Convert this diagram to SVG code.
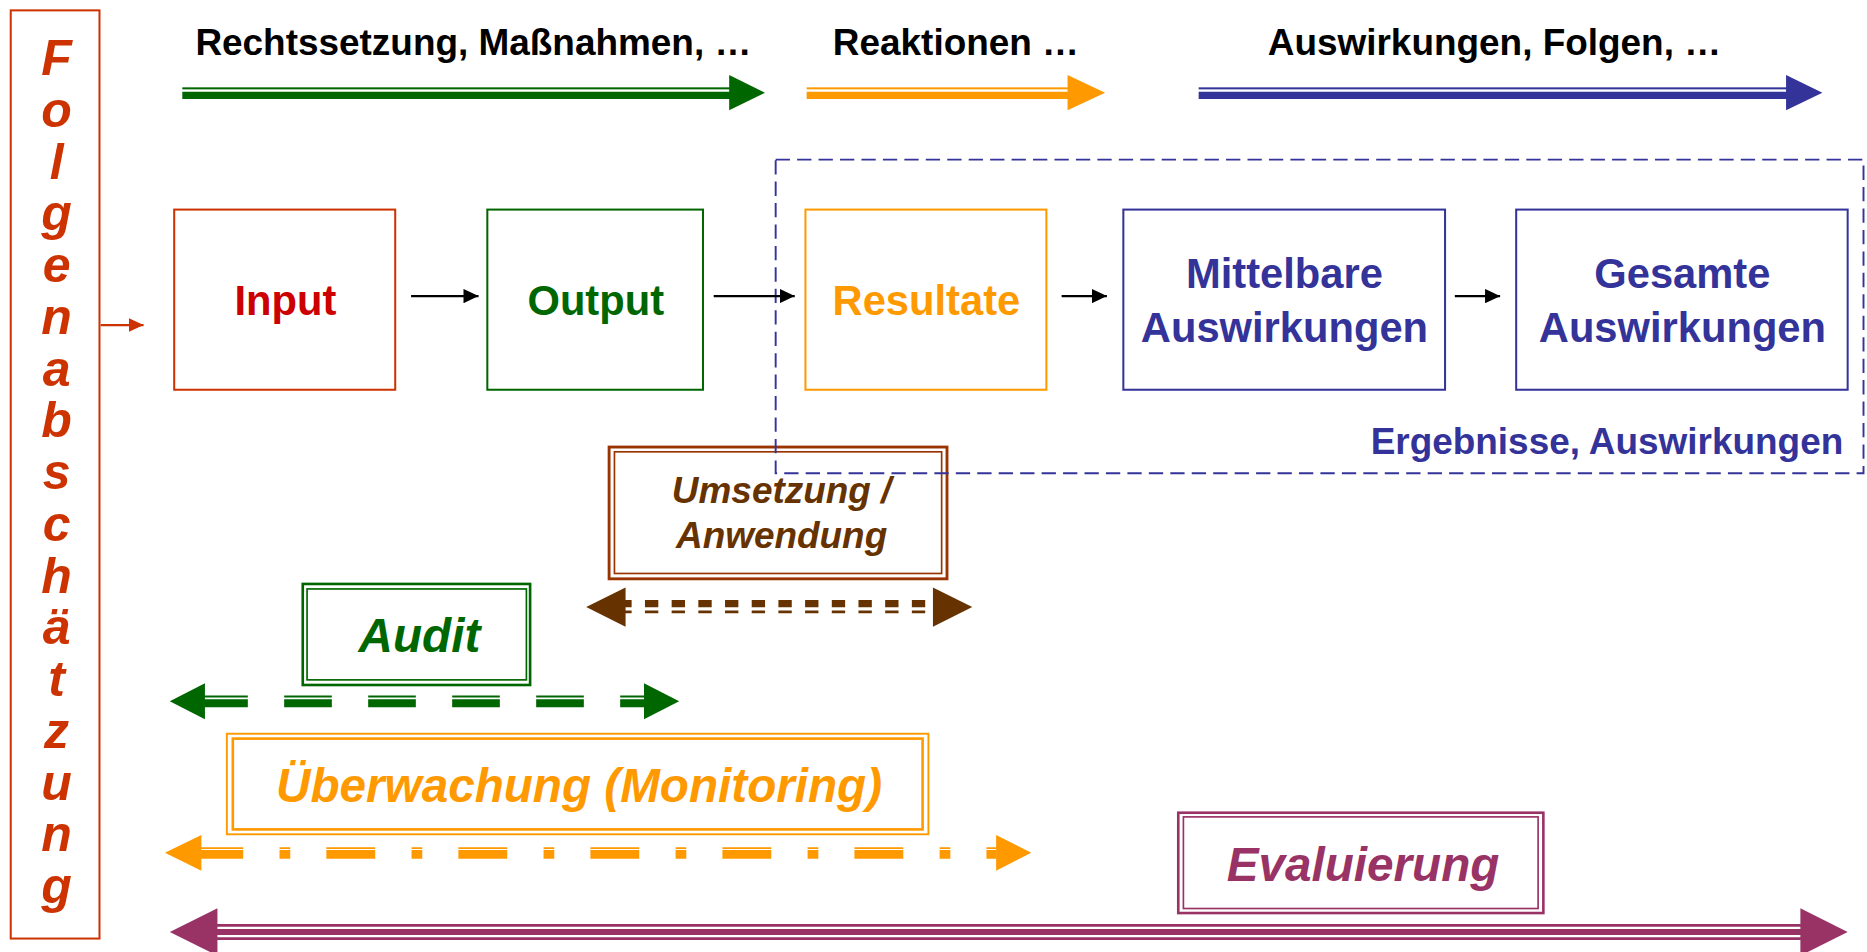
<svg xmlns="http://www.w3.org/2000/svg" width="1867" height="952" viewBox="0 0 1867 952">
<style>
text{font-family:"Liberation Sans",Arial,Helvetica,sans-serif;font-weight:bold}
.it{font-style:italic}
.box{fill:none;stroke-width:1.7}
.conn{stroke:#000;stroke-width:1.8;fill:none}
.mid{text-anchor:middle}
</style>
<defs>
<marker id="ah" markerUnits="userSpaceOnUse" markerWidth="12.6" markerHeight="12" refX="12.6" refY="6" orient="auto" viewBox="0 0 12.6 12"><path d="M0,0 L12.6,6 L0,12 z" fill="#000"/></marker>
<marker id="ahr" markerUnits="userSpaceOnUse" markerWidth="12.6" markerHeight="11.7" refX="12.6" refY="5.85" orient="auto" viewBox="0 0 12.6 11.7"><path d="M0,0 L12.6,5.85 L0,11.7 z" fill="#CC3300"/></marker>
</defs>
<rect width="1867" height="952" fill="#fff"/>
<g transform="scale(1.1915)">

<g id="phase-labels" font-size="31" fill="#000">
<text x="164" y="46">Rechtssetzung, Maßnahmen, …</text>
<text x="699" y="46">Reaktionen …</text>
<text x="1064" y="46">Auswirkungen, Folgen, …</text>
</g>

<g id="folgenabschaetzung">
<rect x="9" y="8.7" width="74.5" height="779" fill="none" stroke="#CC3300" stroke-width="1.7"/>
<text class="it mid" font-size="42" fill="#CC3300">
<tspan x="47.5" y="63">F</tspan><tspan x="47.5" y="106.4">o</tspan><tspan x="47.5" y="149.9">l</tspan><tspan x="47.5" y="193.3">g</tspan><tspan x="47.5" y="236.8">e</tspan><tspan x="47.5" y="280.2">n</tspan><tspan x="47.5" y="323.6">a</tspan><tspan x="47.5" y="367.1">b</tspan><tspan x="47.5" y="410.5">s</tspan><tspan x="47.5" y="454">c</tspan><tspan x="47.5" y="497.4">h</tspan><tspan x="47.5" y="540.8">ä</tspan><tspan x="47.5" y="584.3">t</tspan><tspan x="47.5" y="627.7">z</tspan><tspan x="47.5" y="671.2">u</tspan><tspan x="47.5" y="714.6">n</tspan><tspan x="47.5" y="758">g</tspan>
</text>
</g>

<g id="node-input">
<rect class="box" x="146.2" y="175.9" width="185.5" height="151.2" stroke="#CC3300"/>
<text class="mid" x="239.5" y="264" font-size="35" fill="#CC0000">Input</text>
</g>
<g id="node-output">
<rect class="box" x="409" y="175.9" width="181" height="151.2" stroke="#006600"/>
<text class="mid" x="500" y="264" font-size="35" fill="#006600">Output</text>
</g>
<g id="node-resultate">
<rect class="box" x="676" y="175.9" width="202.2" height="151.2" stroke="#FF9900"/>
<text class="mid" x="777.5" y="264" font-size="35" fill="#FF9900">Resultate</text>
</g>
<g id="node-mittelbare">
<rect class="box" x="942.8" y="175.9" width="270" height="151.2" stroke="#333399"/>
<text class="mid" font-size="35" fill="#333399"><tspan x="1078" y="242">Mittelbare</tspan><tspan x="1078" y="287">Auswirkungen</tspan></text>
</g>
<g id="node-gesamte">
<rect class="box" x="1272.5" y="175.9" width="278.2" height="151.2" stroke="#333399"/>
<text class="mid" font-size="35" fill="#333399"><tspan x="1412" y="242">Gesamte</tspan><tspan x="1412" y="287">Auswirkungen</tspan></text>
</g>

<g id="node-umsetzung">
<rect x="511.2" y="375.2" width="283.6" height="110.6" fill="none" stroke="#993300" stroke-width="2.4"/>
<rect x="515.7" y="379.2" width="274.6" height="102.1" fill="none" stroke="#993300" stroke-width="1.4"/>
<text class="it mid" font-size="31" fill="#663300"><tspan x="656" y="422">Umsetzung /</tspan><tspan x="656" y="460">Anwendung</tspan></text>
</g>

<g id="group-ergebnisse">
<rect x="651" y="134" width="913" height="263.2" fill="none" stroke="#333399" stroke-width="1.6" stroke-dasharray="12 6"/>
<text x="1547" y="381" font-size="31" fill="#333399" text-anchor="end">Ergebnisse, Auswirkungen</text>
</g>

<g id="node-audit">
<rect x="254.1" y="490.1" width="190.8" height="84.8" fill="none" stroke="#006600" stroke-width="2.2"/>
<rect x="257.7" y="494.3" width="184.1" height="76.3" fill="none" stroke="#006600" stroke-width="1.4"/>
<text class="it mid" x="352" y="547" font-size="40" fill="#006600">Audit</text>
</g>

<g id="node-ueberwachung">
<rect x="190.4" y="615.8" width="588.8" height="84.4" fill="none" stroke="#FF9900" stroke-width="1.6"/>
<rect x="195.4" y="619.9" width="578.9" height="76.2" fill="none" stroke="#FF9900" stroke-width="2.2"/>
<text class="it mid" x="486" y="672.8" font-size="40" fill="#FF9900">Überwachung (Monitoring)</text>
</g>

<g id="node-evaluierung">
<rect x="988.9" y="682.1" width="306.4" height="84.2" fill="none" stroke="#993366" stroke-width="2.2"/>
<rect x="993.2" y="685.6" width="297.7" height="76.9" fill="none" stroke="#993366" stroke-width="1.4"/>
<text class="it mid" x="1144" y="739" font-size="40" fill="#993366">Evaluierung</text>
</g>

<g id="connectors">
<line class="conn" x1="345" y1="248.5" x2="401.6" y2="248.5" marker-end="url(#ah)"/>
<line class="conn" x1="599" y1="248.5" x2="667" y2="248.5" marker-end="url(#ah)"/>
<line class="conn" x1="891" y1="248.5" x2="929" y2="248.5" marker-end="url(#ah)"/>
<line class="conn" x1="1221" y1="248.5" x2="1259" y2="248.5" marker-end="url(#ah)"/>
<line x1="84.5" y1="272.8" x2="120.5" y2="272.8" stroke="#CC3300" stroke-width="1.9" marker-end="url(#ahr)"/>

<g id="arrow-rechtssetzung" fill="#006600">
<rect x="153" y="73.3" width="462" height="1.7"/>
<rect x="153" y="77" width="462" height="6.1"/>
<polygon points="612,63 642,77.8 612,92.5"/>
</g>
<g id="arrow-reaktionen" fill="#FF9900">
<rect x="677" y="73.3" width="222" height="1.7"/>
<rect x="677" y="77" width="222" height="6.1"/>
<polygon points="896,63 927.5,77.8 896,92.5"/>
</g>
<g id="arrow-auswirkungen" fill="#333399">
<rect x="1006" y="73.3" width="496" height="1.7"/>
<rect x="1006" y="77" width="496" height="6.1"/>
<polygon points="1499,63 1529.5,77.8 1499,92.5"/>
</g>

<g id="arrow-umsetzung" fill="#663300" stroke="#663300">
<line x1="518.9" y1="506.6" x2="783" y2="506.6" stroke-width="6.1" stroke-dasharray="11.2 11.2"/>
<line x1="518.9" y1="513.6" x2="783" y2="513.6" stroke-width="2.3" stroke-dasharray="11.2 11.2"/>
<polygon stroke="none" points="525,493 492,509.5 525,526"/>
<polygon stroke="none" points="783,493 816,509.5 783,526"/>
</g>

<g id="arrow-audit" fill="#006600" stroke="#006600">
<line x1="168" y1="584.5" x2="541" y2="584.5" stroke-width="1.7" stroke-dasharray="40 30.5"/>
<line x1="168" y1="590.2" x2="541" y2="590.2" stroke-width="6.8" stroke-dasharray="40 30.5"/>
<polygon stroke="none" points="172,573.5 142.5,588.6 172,603.7"/>
<polygon stroke="none" points="540.5,573.5 570,588.6 540.5,603.7"/>
</g>

<g id="arrow-monitoring" fill="#FF9900" stroke="#FF9900">
<line x1="163.1" y1="711.8" x2="836" y2="711.8" stroke-width="1.5" stroke-dasharray="41 30.5 9 30.3"/>
<line x1="163.1" y1="717" x2="836" y2="717" stroke-width="7.3" stroke-dasharray="41 30.5 9 30.3"/>
<polygon stroke="none" points="169,700.8 138.4,715.7 169,730.7"/>
<polygon stroke="none" points="836,700.8 865.5,715.7 836,730.7"/>
</g>

<g id="arrow-evaluierung" fill="#993366" stroke="#993366">
<line x1="182" y1="776.6" x2="1512" y2="776.6" stroke-width="2.2"/>
<line x1="182" y1="782.2" x2="1512" y2="782.2" stroke-width="5"/>
<line x1="182" y1="787.8" x2="1512" y2="787.8" stroke-width="2.2"/>
<polygon stroke="none" points="182.5,762.3 142.5,782.2 182.5,802.1"/>
<polygon stroke="none" points="1511,762.3 1550.7,782.2 1511,802.1"/>
</g>
</g>

</g>
</svg>
